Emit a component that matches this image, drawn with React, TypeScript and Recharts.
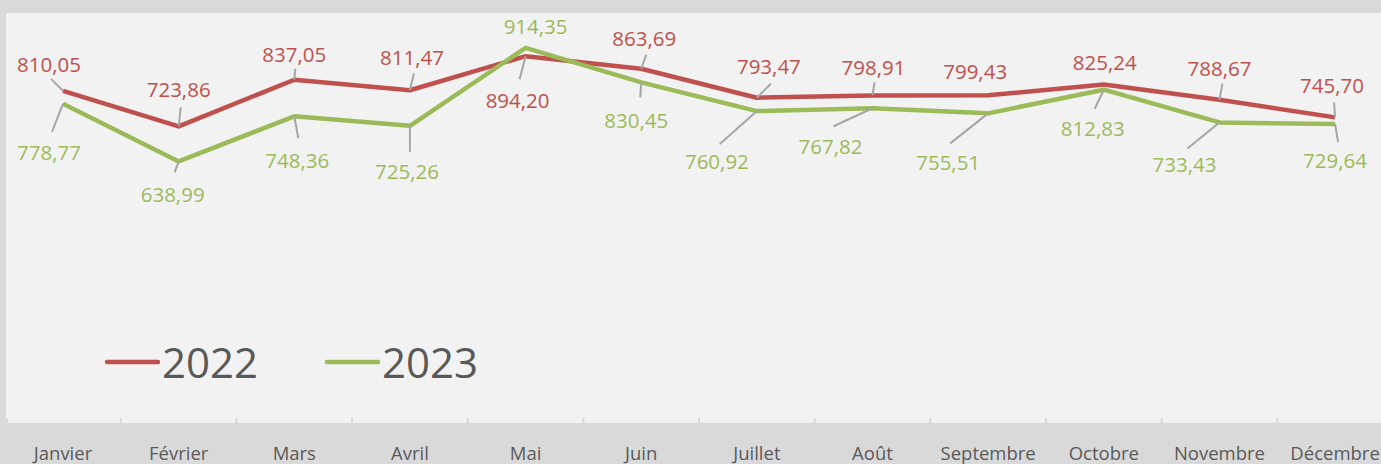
import * as React from "react"
import { LineChart, Line, XAxis, YAxis, Legend, LabelList } from "recharts"

const months = ["Janvier", "Février", "Mars", "Avril", "Mai", "Juin", "Juillet", "Août", "Septembre", "Octobre", "Novembre", "Décembre"]
const values2022 = [810.05, 723.86, 837.05, 811.47, 894.2, 863.69, 793.47, 798.91, 799.43, 825.24, 788.67, 745.7]
const values2023 = [778.77, 638.99, 748.36, 725.26, 914.35, 830.45, 760.92, 767.82, 755.51, 812.83, 733.43, 729.64]

// label placement (offset of text centre from the point) and leader line ends, Excel "best fit" style
const labelPos2022 = [[-14, -26], [0, -37], [0, -25], [2, -33], [-8, 45], [3, -30], [12, -31], [1, -28], [-13, -24], [1, -22], [0, -31], [-3, -32]]
const leader2022 = [[-12, -12], [2, -19], [1, -11], [4, -17], [-6, 23], [5, -14], [14, -14], [2, -13], null, null, [3, -16], [-1, -15]]
const labelPos2023 = [[-14, 49], [-6, 33], [3, 44], [-3, 46], [10, -21], [-5, 38], [-40, 51], [-42, 38], [-40, 49], [-11, 39], [-35, 42], [0, 37]]
const leader2023 = [[-11, 28], [-4, 11], [4, 22], [0, 26], null, [-1, 15], [-37, 33], [-39, 18], [-38, 30], [-9, 19], [-32, 26], [3, 18]]

const RED = "#c0504d"
const GREEN = "#9bbb59"
const FONT = "'Open Sans', sans-serif"

const data = months.map((m, i) => ({ month: m, y2022: values2022[i], y2023: values2023[i] }))

const CHART_W = 1400
const CHART_H = 464
const M_LEFT = 5.2
const M_RIGHT = 7.1
const HALF_BAND = (CHART_W - M_LEFT - M_RIGHT) / months.length / 2

const fmt = (v: number) => v.toFixed(2).replace(".", ",")

function makeLabel(color: string, pos: number[][], leaders: (number[] | null)[]) {
    return (props: any) => {
        const vb = props.viewBox || {}
        const px = vb.x ?? props.x
        const py = vb.y ?? props.y
        const i = props.index
        if (px == null || py == null || i == null) return null
        const [dx, dy] = pos[i]
        const ld = leaders[i]
        return (
            <g>
                {ld && (
                    <line x1={px} y1={py} x2={px + ld[0]} y2={py + ld[1]} stroke="#a6a6a6" strokeWidth={2} />
                )}
                <text
                    x={px + dx}
                    y={py + dy + 7.3}
                    textAnchor="middle"
                    fill={color}
                    style={{ fontFamily: FONT, fontSize: 20.5 }}
                >
                    {fmt(Number(props.value))}
                </text>
            </g>
        )
    }
}

function MonthTick(props: any) {
    const { x, y, payload, index } = props
    return (
        <g>
            <text x={x} y={y + 35} textAnchor="middle" fill="#595959" style={{ fontFamily: FONT, fontSize: 18.5 }}>
                {payload.value}
            </text>
            <line x1={x + HALF_BAND} y1={y - 7} x2={x + HALF_BAND} y2={y - 2} stroke="#d9d9d9" strokeWidth={2} />
            {index === 0 && (
                <line x1={x - HALF_BAND + 2} y1={y - 7} x2={x - HALF_BAND + 2} y2={y - 2} stroke="#d9d9d9" strokeWidth={2} />
            )}
        </g>
    )
}

function LegendContent(props: any) {
    const payload = props.payload || []
    return (
        <svg width={520} height={60}>
            {payload.map((p: any, i: number) => {
                const x0 = 7 + i * 220
                return (
                    <g key={p.value}>
                        <line x1={x0} y1={32} x2={x0 + 51} y2={32} stroke={p.color} strokeWidth={4.5} strokeLinecap="round" />
                        <text x={x0 + 55} y={48} fill="#595959" style={{ fontFamily: FONT, fontSize: 42 }}>
                            {p.value}
                        </text>
                    </g>
                )
            })}
        </svg>
    )
}

export default function App() {
    return (
        <div style={{ position: "absolute", left: 0, top: 0, width: 1381, height: 464, overflow: "hidden", background: "#d9d9d9" }}>
            <div style={{ position: "absolute", left: 6, top: 13, width: 1400, height: 410, background: "#f2f2f2" }} />
            <div style={{ position: "absolute", left: 0, top: 0 }}>
                <LineChart width={CHART_W} height={CHART_H} data={data} margin={{ top: 12.5, right: M_RIGHT, left: M_LEFT, bottom: 0 }}>
                    <XAxis
                        dataKey="month"
                        padding={{ left: HALF_BAND, right: HALF_BAND }}
                        axisLine={false}
                        tickLine={false}
                        tickSize={0}
                        tickMargin={0}
                        interval={0}
                        height={39}
                        tick={<MonthTick />}
                    />
                    <YAxis hide domain={[0, 1000]} />
                    <Legend
                        layout="horizontal"
                        verticalAlign="middle"
                        align="center"
                        content={<LegendContent />}
                        wrapperStyle={{ position: "absolute", left: 100, top: 330, width: 520 }}
                    />
                    <Line
                        name="2022"
                        dataKey="y2022"
                        stroke={RED}
                        strokeWidth={4.5}
                        strokeLinejoin="round"
                        dot={false}
                        activeDot={false}
                        isAnimationActive={false}
                    >
                        <LabelList dataKey="y2022" content={makeLabel(RED, labelPos2022, leader2022)} />
                    </Line>
                    <Line
                        name="2023"
                        dataKey="y2023"
                        stroke={GREEN}
                        strokeWidth={4.5}
                        strokeLinejoin="round"
                        dot={false}
                        activeDot={false}
                        isAnimationActive={false}
                    >
                        <LabelList dataKey="y2023" content={makeLabel(GREEN, labelPos2023, leader2023)} />
                    </Line>
                </LineChart>
            </div>
        </div>
    )
}
